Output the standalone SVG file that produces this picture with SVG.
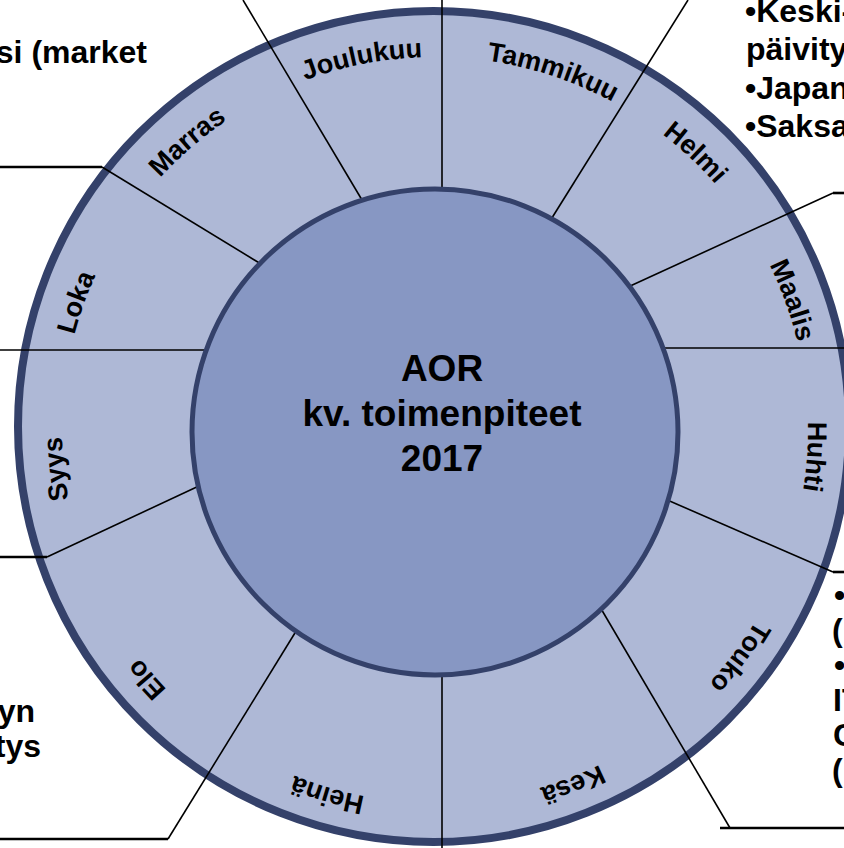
<svg xmlns="http://www.w3.org/2000/svg" width="844" height="848" viewBox="0 0 844 848">
<style>
.ring{fill:#AEB8D6;stroke:#34416A;stroke-width:8}
.core{fill:#8797C3;stroke:#34416A;stroke-width:5}
.ln{fill:none;stroke:#000;stroke-width:1.6}
.hz{fill:none;stroke:#000;stroke-width:2.6}
.m{font-family:"Liberation Sans",Arial,sans-serif;font-weight:bold;font-size:27px;fill:#000;text-anchor:middle}
.c{font-family:"Liberation Sans",Arial,sans-serif;font-weight:bold;font-size:37px;fill:#000;text-anchor:middle}
.s{font-family:"Liberation Sans",Arial,sans-serif;font-weight:bold;font-size:32px;fill:#000}
</style>
<defs>
<path id="arc" d="M 435 57 A 373 373 0 1 1 435 803 A 373 373 0 1 1 435 57"/>
</defs>
<rect width="844" height="848" fill="#fff"/>
<g id="ring"><circle class="ring" cx="433.5" cy="426.5" r="415.5"/></g>
<g id="connectors">
<line class="ln" x1="442" y1="0" x2="442" y2="200"/>
<line class="ln" x1="243" y1="0" x2="362" y2="200"/>
<line class="ln" x1="688" y1="0" x2="550" y2="221"/>
<line class="hz" x1="844" y1="193" x2="833" y2="193"/>
<line class="ln" x1="833" y1="193" x2="628" y2="287"/>
<line class="ln" x1="844" y1="348" x2="660" y2="348"/>
<line class="hz" x1="844" y1="572" x2="833" y2="572"/>
<line class="ln" x1="833" y1="572" x2="665" y2="499"/>
<line class="hz" x1="844" y1="828" x2="720" y2="828"/>
<line class="ln" x1="730" y1="828" x2="600" y2="607"/>
<line class="ln" x1="442" y1="848" x2="442" y2="665"/>
<line class="hz" x1="0" y1="839" x2="168" y2="839"/>
<line class="ln" x1="168" y1="839" x2="298" y2="628"/>
<line class="hz" x1="0" y1="557" x2="47" y2="557"/>
<line class="ln" x1="47" y1="557" x2="201" y2="485"/>
<line class="ln" x1="0" y1="350" x2="208" y2="350"/>
<line class="hz" x1="0" y1="167" x2="102" y2="167"/>
<line class="ln" x1="102" y1="167" x2="261" y2="264"/>
</g>
<g id="center">
<circle class="core" cx="435" cy="432" r="243"/>
<text class="c" x="442" y="381">AOR</text>
<text class="c" x="442" y="426">kv. toimenpiteet</text>
<text class="c" x="442" y="471">2017</text>
</g>
<g id="months">
<text class="m"><textPath href="#arc" startOffset="118.5">Tammikuu</textPath></text>
<text class="m"><textPath href="#arc" startOffset="281">Helmi</textPath></text>
<text class="m"><textPath href="#arc" startOffset="455.7">Maalis</textPath></text>
<text class="m"><textPath href="#arc" startOffset="612">Huhti</textPath></text>
<text class="m"><textPath href="#arc" startOffset="824.8">Touko</textPath></text>
<text class="m"><textPath href="#arc" startOffset="1033">Kesä</textPath></text>
<text class="m"><textPath href="#arc" startOffset="1278.5">Heinä</textPath></text>
<text class="m"><textPath href="#arc" startOffset="1491.4">Elo</textPath></text>
<text class="m"><textPath href="#arc" startOffset="1718.6">Syys</textPath></text>
<text class="m"><textPath href="#arc" startOffset="1884.6">Loka</textPath></text>
<text class="m"><textPath href="#arc" startOffset="2078">Marras</textPath></text>
<text class="m"><textPath href="#arc" startOffset="2270">Joulukuu</textPath></text>
</g>
<g id="note-topleft"><text class="s" x="147" y="63" text-anchor="end">si (market</text></g>
<g id="note-topright">
<text class="s" x="745" y="22">•Keski-</text>
<text class="s" x="746" y="60">päivity</text>
<text class="s" x="745" y="99">•Japan</text>
<text class="s" x="745" y="137">•Saksa</text>
</g>
<g id="note-bottomright">
<text class="s" x="834" y="606">•</text>
<text class="s" x="832" y="641">(</text>
<text class="s" x="834" y="676">•</text>
<text class="s" x="833" y="711">IT</text>
<text class="s" x="833" y="746">C</text>
<text class="s" x="832" y="781">(</text>
</g>
<g id="note-bottomleft">
<text class="s" x="35" y="722" text-anchor="end">yn</text>
<text class="s" x="41" y="757" text-anchor="end">tys</text>
</g>
</svg>
